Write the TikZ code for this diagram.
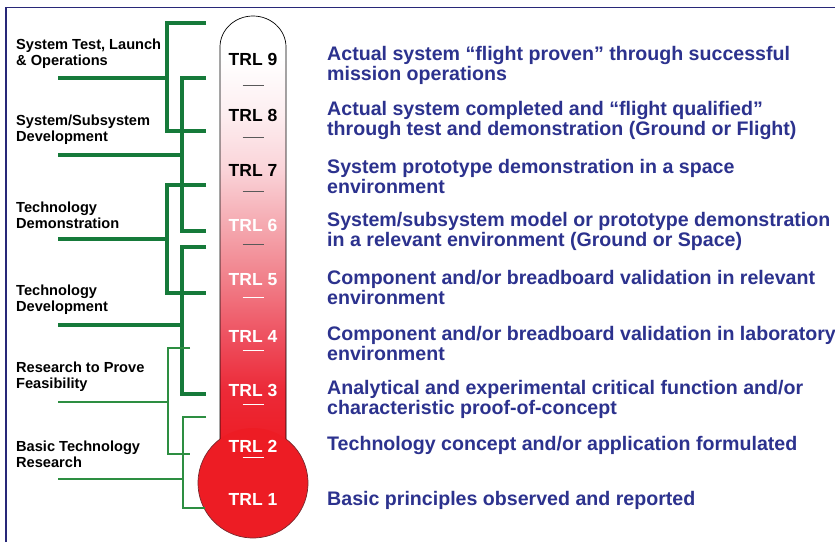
\documentclass[tikz,border=0pt]{standalone}
\usepackage{fontspec}
\setmainfont{Liberation Sans}
\definecolor{navy}{RGB}{40,40,120}
\definecolor{gdark}{RGB}{22,122,58}
\definecolor{glight}{RGB}{45,142,65}
\definecolor{descblue}{RGB}{44,50,142}
\definecolor{trlred}{RGB}{237,28,36}
\definecolor{bulbedge}{RGB}{120,40,45}
\definecolor{sa}{RGB}{236,42,56}
\definecolor{sb}{RGB}{238,82,97}
\definecolor{sc}{RGB}{241,128,138}
\definecolor{sd}{RGB}{245,170,177}
\definecolor{se}{RGB}{250,212,217}
\definecolor{sf}{RGB}{253,238,240}
\pgfdeclareverticalshading{tubeshade}{100bp}{color(0bp)=(trlred); color(25bp)=(trlred); color(31.7bp)=(sa); color(38bp)=(sb); color(44.5bp)=(sc); color(50.9bp)=(sd); color(57.3bp)=(se); color(63.6bp)=(sf); color(70bp)=(white); color(100bp)=(white)}
\begin{document}
\begin{tikzpicture}[x=1pt,y=1pt,
  frame/.style={draw=navy,line width=1.8pt},
  gthick/.style={draw=gdark,line width=3.3pt},
  gthin/.style={draw=glight,line width=2pt},
  trl/.style={font=\bfseries\fontsize{17.5}{19}\selectfont,inner sep=0},
  desc/.style={font=\bfseries\fontsize{19.6}{20}\selectfont,text=descblue,anchor=west,inner sep=0,align=left},
  phase/.style={font=\bfseries\fontsize{14.6}{16}\selectfont,anchor=west,inner sep=0,align=left},
  darktick/.style={draw=black!65,line width=0.9pt},
  lighttick/.style={draw=white,line width=0.9pt}]
\useasboundingbox (0,0) rectangle (835,542);
\fill[white] (0,0) rectangle (835,542);
\draw[frame] (6,0) -- (6,534.5) -- (835,534.5);

% thermometer
\path[shading=tubeshade] (220,95) -- (220,495) arc[start angle=180,end angle=0,x radius=33,y radius=31] -- (286,95) -- cycle;
\fill[trlred] (253,59) circle[radius=55];
\draw[line width=0.7pt] (220,103) -- (220,495) arc[start angle=180,end angle=0,x radius=33,y radius=31] -- (286,103);
\draw[draw=bulbedge,line width=0.7pt] (286,103) arc[start angle=53.13,end angle=-233.13,radius=55];

% ticks
\foreach \y in {457,405,351,298}{\draw[darktick] (242.5,\y) -- (263.5,\y);}
\foreach \y in {245,192,138,85}{\draw[lighttick] (242.5,\y) -- (263.5,\y);}

% TRL labels
\node[trl,text=black] (t9) at (253,483) {TRL 9};
\node[trl,text=black] (t8) at (253,427) {TRL 8};
\node[trl,text=black] (t7) at (253,372) {TRL 7};
\node[trl,text=white] (t6) at (253,317) {TRL 6};
\node[trl,text=white] (t5) at (253,262) {TRL 5};
\node[trl,text=white] (t4) at (253,206) {TRL 4};
\node[trl,text=white] (t3) at (253,152) {TRL 3};
\node[trl,text=white] (t2) at (253,96) {TRL 2};
\node[trl,text=white] (t1) at (253,43) {TRL 1};

% descriptions
\node[desc] (d9) at (327,477) {Actual system “flight proven” through successful\\mission operations};
\node[desc] (d8) at (327,422) {Actual system completed and “flight qualified”\\through test and demonstration (Ground or Flight)};
\node[desc] (d7) at (327,366) {System prototype demonstration in a space\\environment};
\node[desc] (d6) at (327,311) {System/subsystem model or prototype demonstration\\in a relevant environment (Ground or Space)};
\node[desc] (d5) at (327,255) {Component and/or breadboard validation in relevant\\environment};
\node[desc] (d4) at (327,198.5) {Component and/or breadboard validation in laboratory\\environment};
\node[desc] (d3) at (327,142.5) {Analytical and experimental critical function and/or\\characteristic proof-of-concept};
\node[desc] (d2) at (327,97) {Technology concept and/or application formulated};
\node[desc] (d1) at (327,42) {Basic principles observed and reported};

% phase labels
\node[phase] (p6) at (16,488) {System Test, Launch\\\& Operations};
\node[phase] (p5) at (16,412) {System/Subsystem\\Development};
\node[phase] (p4) at (16,327) {Technology\\Demonstration};
\node[phase] (p3) at (16,242) {Technology\\Development};
\node[phase] (p2) at (16,165.5) {Research to Prove\\Feasibility};
\node[phase] (p1) at (16,88) {Basic Technology\\Research};

% bracket coordinates
\coordinate (a6) at (58,464); \coordinate (j6) at (167,464);
\coordinate (a5) at (58,387); \coordinate (j5) at (182,387);
\coordinate (a4) at (58,303); \coordinate (j4) at (167,303);
\coordinate (a3) at (58,217); \coordinate (j3) at (182,217);
\coordinate (a2) at (58,140); \coordinate (j2) at (168,140);
\coordinate (a1) at (58,63);  \coordinate (j1) at (183,63);

\coordinate (b6t) at (206,519); \coordinate (b6b) at (206,411);
\coordinate (b5t) at (206,464); \coordinate (b5b) at (206,311);
\coordinate (b4t) at (206,357); \coordinate (b4b) at (206,249);
\coordinate (b3t) at (206,295); \coordinate (b3b) at (206,148);
\coordinate (b2t) at (190,194); \coordinate (b2b) at (190,88);
\coordinate (b1t) at (206,125); \coordinate (b1b) at (204.5,34);

% brackets
\draw[gthick] (b6t) -- (167,519) -- (167,411) -- (b6b);
\draw[gthick] (a6) -- (j6);
\draw[gthick] (b5t) -- (182,464) -- (182,311) -- (b5b);
\draw[gthick] (a5) -- (j5);
\draw[gthick] (b4t) -- (167,357) -- (167,249) -- (b4b);
\draw[gthick] (a4) -- (j4);
\draw[gthick] (b3t) -- (182,295) -- (182,148) -- (b3b);
\draw[gthick] (a3) -- (j3);
\draw[gthin] (b2t) -- (168,194) -- (168,88) -- (b2b);
\draw[gthin] (a2) -- (j2);
\draw[gthin] (b1t) -- (183,125) -- (183,34) -- (b1b);
\draw[gthin] (a1) -- (j1);
\end{tikzpicture}
\end{document}
